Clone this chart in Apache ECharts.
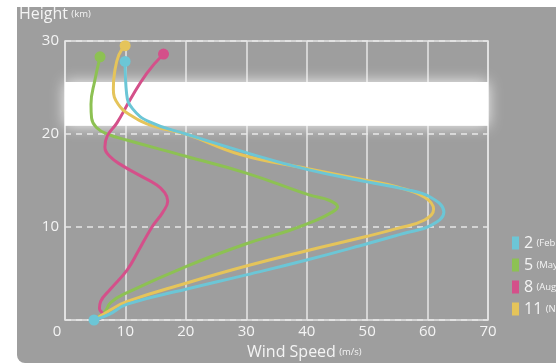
<!DOCTYPE html>
<html>
<head>
<meta charset="utf-8">
<script src="https://cdn.jsdelivr.net/npm/echarts@6/dist/echarts.min.js"></script>
<style>
html,body{margin:0;padding:0;background:#fff;}
#c{width:556px;height:364px;}
</style>
</head>
<body>
<div id="c"></div>
<script>
// Wind speed (m/s), height (km) pairs, from ground to top
const seriesNames = ['2 (February)', '5 (May)', '8 (August)', '11 (November)'];
const febProfile = [[4.8,0],[7.3,0.6],[10.3,1.7],[20,3.3],[30,4.85],[40,6.45],[50,8.2],[56,9.3],[60.5,10.15],[62.7,11.6],[60.5,13.2],[56,14.1],[50,14.85],[40,16.2],[30,18.0],[20,20.0],[14,21.3],[11.2,22.7],[10.2,24.3],[9.95,27.8]];
const mayProfile = [[4.8,0],[6.6,0.9],[7.6,1.9],[10.3,2.95],[20,5.75],[30,8.2],[37,9.6],[41.5,10.7],[44.2,11.6],[45.1,12.15],[43.8,12.85],[40.4,13.45],[30,15.8],[20,17.6],[10.2,19.35],[7.0,20.0],[5.2,20.7],[4.4,21.7],[4.3,23.2],[4.95,25.8],[5.8,28.3]];
const augProfile = [[4.8,0],[6.4,0.55],[5.7,1.2],[5.9,2.0],[7.5,3.3],[10.3,5.4],[12.2,7.5],[14.4,10.0],[16.2,11.6],[17.0,12.8],[16.5,13.7],[15.0,14.6],[12.5,15.5],[9.5,16.6],[7.4,17.6],[6.6,18.6],[7.0,19.8],[8.6,21.2],[10.8,23.7],[13.5,26.5],[16.3,28.6]];
const novProfile = [[4.8,0],[7.3,1.0],[10.3,2.0],[20,3.95],[30,5.8],[40,7.45],[50,9.0],[55,9.85],[59.5,10.75],[61.0,11.9],[59.5,13.2],[55,14.3],[50,15.0],[40,16.3],[29,17.8],[20,20.0],[14.6,20.85],[10.8,22.05],[8.8,23.2],[8.0,24.8],[8.2,26.6],[8.9,28.5],[9.95,29.5]];
const bandHeights = [20.9, 25.6]; // highlighted height range (km)
const xTicks = [0,10,20,30,40,50,60,70];
const yTicks = [0,10,20,30];

const colors = ['#6cc6d6', '#8dc153', '#d4508a', '#e5c45a'];
const profiles = [febProfile, mayProfile, augProfile, novProfile];
const order = [1, 2, 3, 0]; // draw cyan last so its ground dot is on top

const FONT = '"Open Sans", "Noto Sans", sans-serif';
const TXT = '#f4f4f4';
const chart = echarts.init(document.getElementById('c'), null, {renderer: 'canvas'});

const lineSeries = order.map(i => {
  const d = profiles[i];
  return {
    name: seriesNames[i],
    type: 'line',
    data: d,
    smooth: 0.45,
    z: 3,
    symbol: 'circle',
    showSymbol: true,
    showAllSymbol: true,
    symbolSize: (v, p) => (p.dataIndex === d.length - 1 || (i === 0 && p.dataIndex === 0)) ? 11 : 0,
    itemStyle: {color: colors[i]},
    lineStyle: {color: colors[i], width: 3},
    emphasis: {disabled: true},
    animation: false
  };
});

const bandUnder = {
  type: 'line', data: [], z: 2, silent: true,
  markArea: {
    silent: true,
    itemStyle: {color: '#ffffff', shadowBlur: 14, shadowColor: 'rgba(255,255,255,0.9)'},
    data: [[{yAxis: bandHeights[0], xAxis: 0}, {yAxis: bandHeights[1], xAxis: 70}]]
  }
};
const bandOver = {
  type: 'line', data: [], z: 5, silent: true,
  markArea: {
    silent: true,
    itemStyle: {color: 'rgba(255,255,255,0.5)'},
    data: [[{yAxis: bandHeights[0], xAxis: 0}, {yAxis: bandHeights[1], xAxis: 70}]]
  }
};

chart.setOption({
  backgroundColor: '#ffffff',
  animation: false,
  graphic: [
    {type: 'rect', z: -10, silent: true, shape: {x: 17, y: 7, width: 560, height: 356, r: [0, 0, 0, 8]}, style: {fill: '#9e9e9e'}},
    {type: 'text', left: 19, top: 6, z: 10, style: {text: '{a|Height} {b|(km)}', rich: {a: {fontSize: 16, fontFamily: FONT, fill: TXT}, b: {fontSize: 9.5, fontFamily: FONT, fill: TXT}}}},
    {type: 'text', left: 247, top: 344, z: 10, style: {text: '{a|Wind Speed} {b|(m/s)}', rich: {a: {fontSize: 16, fontFamily: FONT, fill: TXT}, b: {fontSize: 9.5, fontFamily: FONT, fill: TXT}}}}
  ],
  grid: {left: 65, right: 68, top: 41, bottom: 44, show: true, borderColor: '#e6e6e6', borderWidth: 1.5, backgroundColor: 'transparent'},
  legend: {
    orient: 'vertical', left: 507, top: 230, itemWidth: 7, itemHeight: 13, itemGap: 6, icon: 'rect',
    data: seriesNames,
    formatter: n => { const m = n.match(/^(\d+) (.*)$/); return '{n|' + m[1] + '} {p|' + m[2] + '}'; },
    textStyle: {rich: {n: {fontSize: 16, fontFamily: FONT, color: TXT}, p: {fontSize: 9.5, fontFamily: FONT, color: TXT}}},
    selectedMode: false
  },
  xAxis: {
    type: 'value', min: xTicks[0], max: xTicks[xTicks.length - 1], interval: 10,
    axisLine: {show: false}, axisTick: {show: false},
    splitLine: {show: true, lineStyle: {color: '#e6e6e6', width: 1.5}},
    axisLabel: {
      margin: 4, fontSize: 15, fontFamily: FONT, color: TXT,
      formatter: v => v === 0 ? '{z|0}' : String(v),
      rich: {z: {fontSize: 15, fontFamily: FONT, color: TXT, padding: [0, 16, 0, 0]}}
    }
  },
  yAxis: {
    type: 'value', min: yTicks[0], max: yTicks[yTicks.length - 1], interval: 10,
    axisLine: {show: false}, axisTick: {show: false},
    splitLine: {show: true, lineStyle: {color: '#e6e6e6', width: 1.5, type: [6, 5]}},
    axisLabel: {margin: 6, fontSize: 15, fontFamily: FONT, color: TXT, formatter: v => v === 0 ? '' : String(v)}
  },
  series: [bandUnder].concat(lineSeries).concat([bandOver])
});
</script>
</body>
</html>
